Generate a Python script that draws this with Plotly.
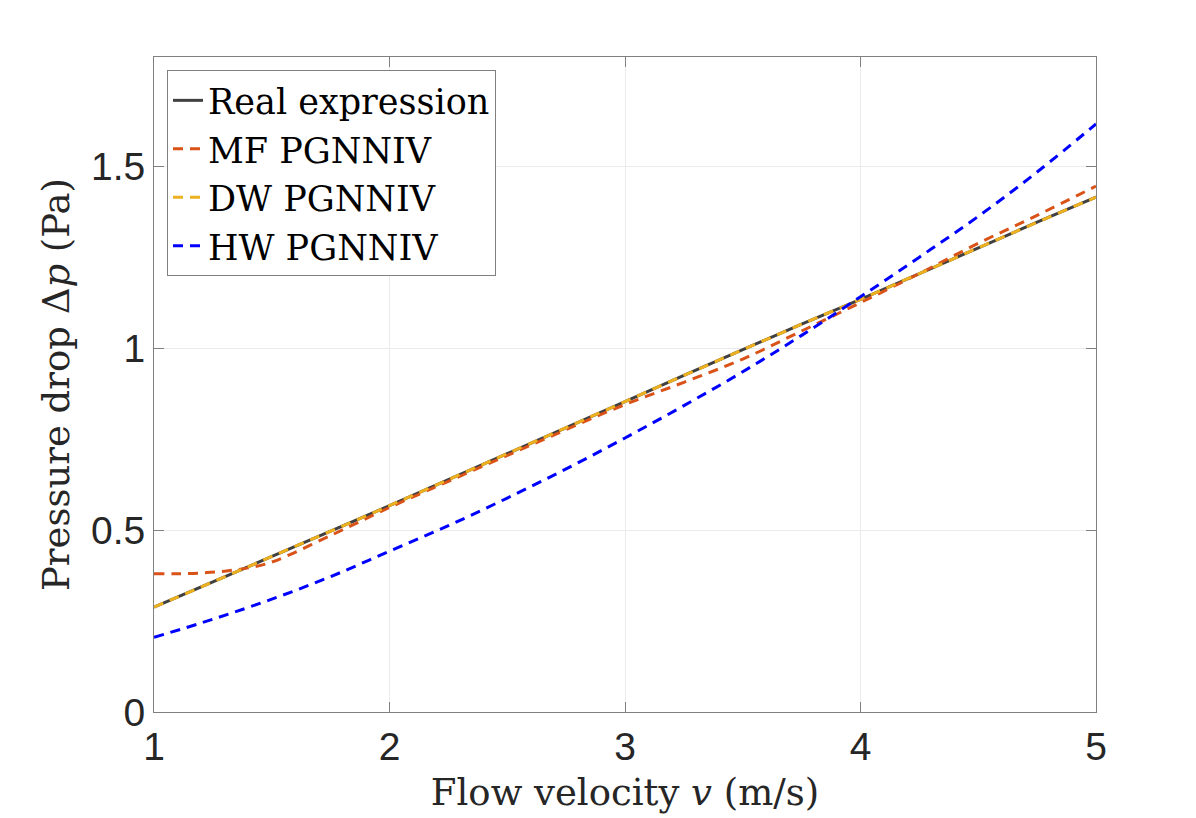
import plotly.graph_objects as go

# Flow velocity v (m/s)
v_real = [1.0, 1.25, 1.5, 1.75, 2.0, 2.25, 2.5, 2.75, 3.0, 3.25, 3.5, 3.75, 4.0, 4.25, 4.5, 4.75, 5.0]
dp_real = [0.288, 0.357, 0.427, 0.497, 0.567, 0.638, 0.710, 0.782, 0.853, 0.925, 0.996, 1.066, 1.134, 1.205, 1.276, 1.346, 1.415]

v_mf = [1.0, 1.1, 1.2, 1.3, 1.4, 1.5, 1.75, 2.0, 2.25, 2.5, 2.75, 3.0, 3.25, 3.5, 3.75, 4.0, 4.25, 4.5, 4.75, 5.0]
dp_mf = [0.380, 0.380, 0.382, 0.387, 0.396, 0.412, 0.485, 0.562, 0.634, 0.705, 0.776, 0.845, 0.906, 0.970, 1.047, 1.125, 1.205, 1.288, 1.365, 1.445]

v_dw = [1.0, 1.25, 1.5, 1.75, 2.0, 2.25, 2.5, 2.75, 3.0, 3.25, 3.5, 3.75, 4.0, 4.25, 4.5, 4.75, 5.0]
dp_dw = [0.288, 0.357, 0.427, 0.497, 0.567, 0.638, 0.710, 0.782, 0.853, 0.925, 0.996, 1.066, 1.134, 1.205, 1.276, 1.346, 1.415]

v_hw = [1.0, 1.25, 1.5, 1.75, 2.0, 2.25, 2.5, 2.75, 3.0, 3.25, 3.5, 3.75, 4.0, 4.25, 4.5, 4.75, 5.0]
dp_hw = [0.205, 0.255, 0.310, 0.372, 0.442, 0.512, 0.588, 0.668, 0.753, 0.842, 0.935, 1.035, 1.141, 1.250, 1.362, 1.484, 1.616]

x_ticks = [1, 2, 3, 4, 5]
x_tick_labels = ["1", "2", "3", "4", "5"]
y_ticks = [0, 0.5, 1, 1.5]
y_tick_labels = ["0", "0.5", "1", "1.5"]

serif = "DejaVu Serif, Liberation Serif, serif"
sans = "Liberation Sans, Arial, Helvetica, sans-serif"
dash = "10px,7px"
lw = 3

fig = go.Figure()
fig.add_trace(go.Scatter(x=v_real, y=dp_real, mode="lines", name="Real expression",
                         line=dict(color="#404040", width=lw)))
fig.add_trace(go.Scatter(x=v_mf, y=dp_mf, mode="lines", name="MF PGNNIV",
                         line=dict(color="#D95319", width=lw, dash=dash, shape="spline")))
fig.add_trace(go.Scatter(x=v_dw, y=dp_dw, mode="lines", name="DW PGNNIV",
                         line=dict(color="#EDB120", width=lw, dash=dash)))
fig.add_trace(go.Scatter(x=v_hw, y=dp_hw, mode="lines", name="HW PGNNIV",
                         line=dict(color="#0000FF", width=lw, dash=dash, shape="spline")))

axis_common = dict(
    showline=True, linecolor="#808080", linewidth=1, mirror="ticks",
    ticks="inside", ticklen=10, tickcolor="#808080",
    showgrid=True, gridcolor="#ebebeb", gridwidth=1,
    zeroline=False,
    tickfont=dict(family=sans, size=39, color="#262626"),
)

fig.update_layout(
    width=1196, height=818,
    paper_bgcolor="white", plot_bgcolor="white",
    margin=dict(l=146, r=108, t=49, b=114),
    showlegend=True,
    legend=dict(
        x=0.0138, y=0.980, xanchor="left", yanchor="top",
        bgcolor="white", bordercolor="#808080", borderwidth=1,
        font=dict(family=serif, size=35, color="black"),
        itemwidth=30, tracegroupgap=0,
    ),
    xaxis=dict(
        range=[1, 5], tickvals=x_ticks, ticktext=x_tick_labels,
        title=dict(text="Flow velocity <i>v</i> (m/s)",
                   font=dict(family=serif, size=37, color="#262626"), standoff=12),
        **axis_common,
    ),
    yaxis=dict(
        range=[0, 1.8], tickvals=y_ticks, ticktext=y_tick_labels,
        title=dict(text="Pressure drop Δ<i>p</i> (Pa)",
                   font=dict(family=serif, size=37, color="#262626"), standoff=10),
        **axis_common,
    ),
)

fig.write_html("out.html")
